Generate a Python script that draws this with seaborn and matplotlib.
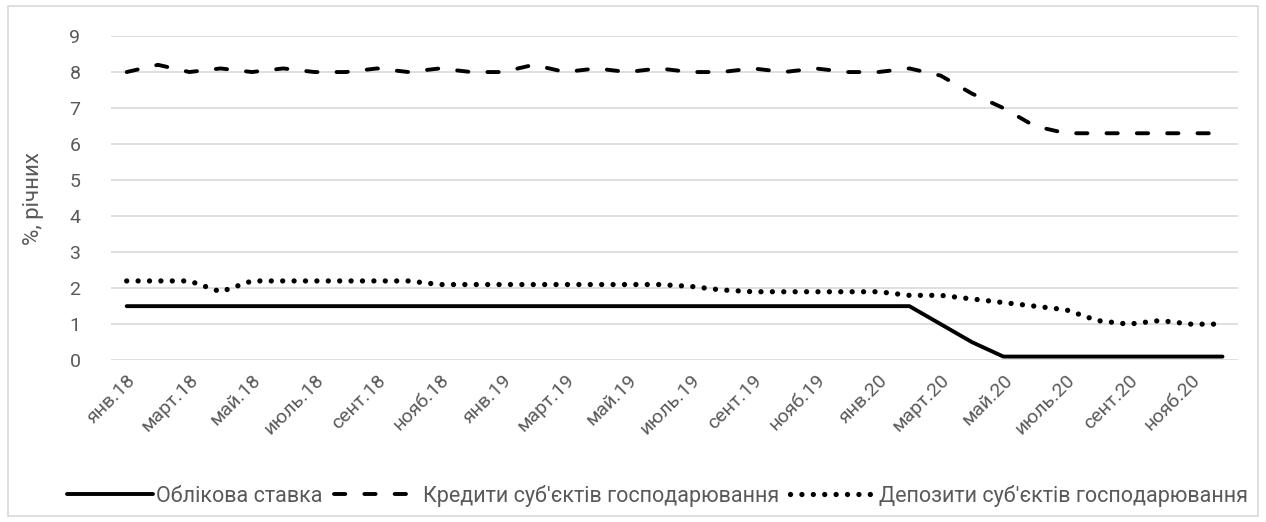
import numpy as np
import pandas as pd
import seaborn as sns
import matplotlib.pyplot as plt
from matplotlib.patches import Rectangle

# months jan 2018 .. dec 2020
month_names = ["янв", "февр", "март", "апр", "май", "июнь",
               "июль", "авг", "сент", "окт", "нояб", "дек"]
years = ["18", "19", "20"]
month_labels = [m + "." + y for y in years for m in month_names]

discount_rate = [1.5] * 26 + [1.0, 0.5] + [0.1] * 8

loans = [8.0, 8.2, 8.0, 8.1, 8.0, 8.1, 8.0, 8.0, 8.1, 8.0, 8.1, 8.0,
         8.0, 8.2, 8.0, 8.1, 8.0, 8.1, 8.0, 8.0, 8.1, 8.0, 8.1, 8.0,
         8.0, 8.1, 7.9, 7.4, 7.0, 6.5, 6.3, 6.3, 6.3, 6.3, 6.3, 6.3]

deposits = [2.2, 2.2, 2.2, 1.9, 2.2, 2.2, 2.2, 2.2, 2.2, 2.2, 2.1, 2.1,
            2.1, 2.1, 2.1, 2.1, 2.1, 2.1, 2.05, 1.95, 1.9, 1.9, 1.9, 1.9,
            1.9, 1.8, 1.8, 1.7, 1.6, 1.5, 1.4, 1.1, 1.0, 1.1, 1.0, 1.0]

names = ["Облікова ставка",
         "Кредити суб'єктів господарювання",
         "Депозити суб'єктів господарювання"]

df = pd.DataFrame({"month": np.arange(len(month_labels)),
                   "rate": discount_rate, "loans": loans, "deposits": deposits})

sns.set_style("white")
plt.rcParams["font.family"] = ["Roboto", "DejaVu Sans"]

fig = plt.figure(figsize=(12.66, 5.22), dpi=100)
ax = fig.add_axes([0.0877, 0.31, 0.8903, 0.621])

grey = "#595959"
lw = 2.8
sns.lineplot(data=df, x="month", y="rate", ax=ax, color="black", lw=lw,
             label=names[0])
sns.lineplot(data=df, x="month", y="loans", ax=ax, color="black", lw=lw,
             label=names[1], linestyle=(0, (2.9, 4.9)))
sns.lineplot(data=df, x="month", y="deposits", ax=ax, color="black", lw=3.8,
             label=names[2], linestyle=(0, (0.01, 2.15)))
# round ends like excel
for ln in ax.lines:
    ln.set_dash_capstyle("round")
    ln.set_solid_capstyle("round")

ax.set_xlim(-0.5, len(month_labels) - 0.5)
ax.set_ylim(0, 9)
ax.set_yticks(range(0, 10))
ax.set_xticks(df["month"][::2])
ax.set_xticklabels(month_labels[::2], rotation=45, ha="right",
                   rotation_mode="anchor")
ax.tick_params(axis="both", length=0, labelsize=14, colors=grey)
ax.tick_params(axis="x", pad=8)
ax.tick_params(axis="y", pad=22)
ax.grid(axis="y", color="#d9d9d9", lw=1.2)
ax.set_axisbelow(True)
for s in ax.spines.values():
    s.set_visible(False)
ax.set_xlabel("")
ax.set_ylabel("%, річних", fontsize=16, color=grey, labelpad=18)

leg = ax.legend(loc="upper center", bbox_to_anchor=(0.5 - 0.015, -0.325), ncol=3,
                frameon=False, fontsize=15.5, handlelength=4.0, columnspacing=0.5,
                handletextpad=0.15, labelcolor=grey)
for ln in leg.get_lines():
    ln.set_dash_capstyle("round")

fig.patches.append(Rectangle((0.006, 0.012), 0.988, 0.976, transform=fig.transFigure,
                             fill=False, edgecolor="#d9d9d9", lw=1.2))

fig.savefig("out.png", dpi=100)
